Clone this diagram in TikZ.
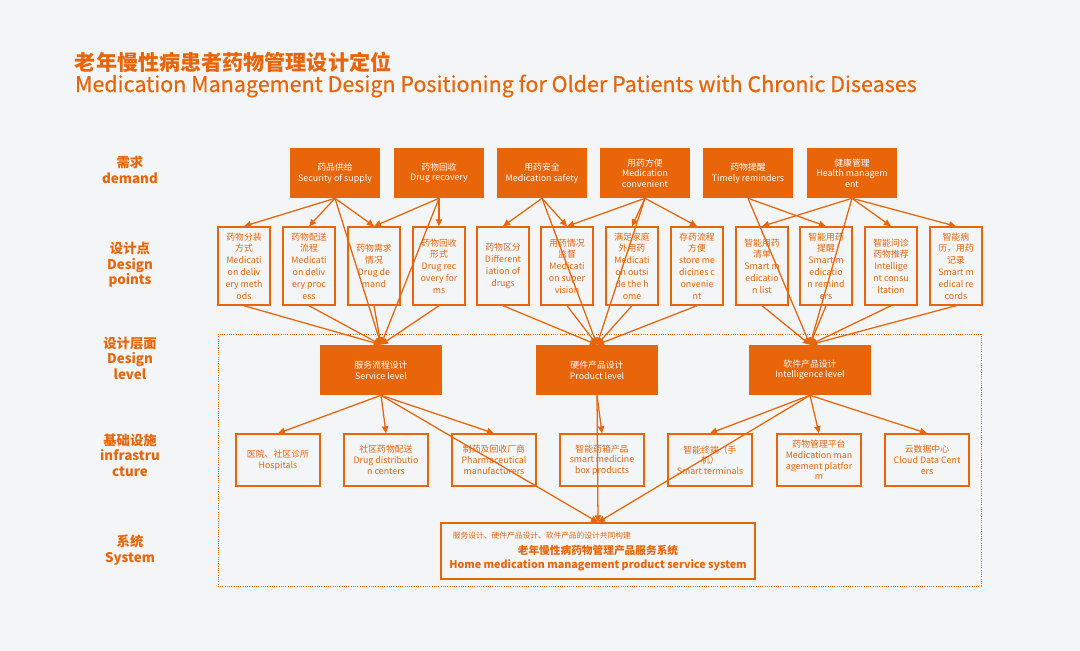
\documentclass[tikz,border=0pt]{standalone}
\usepackage{fontspec}
\setmainfont{Noto Sans CJK SC}
\newfontfamily\titlefont[FakeBold=0.5]{Noto Sans CJK SC}
\usetikzlibrary{arrows.meta}
\definecolor{orng}{HTML}{E8650A}
\definecolor{bg}{HTML}{F4F5F7}
\begin{document}
\begin{tikzpicture} [
            x=0.025cm, y=-0.025cm,
            need/.style   = { rectangle, fill=orng, text=white, align=center,
                              minimum width=2.25cm, minimum height=1.25cm,
                              inner sep=1pt, font=\fontsize{6.3}{7.6}\selectfont },
            point/.style  = { rectangle, draw=orng, line width=1pt, text=orng, align=center,
                              minimum width=1.3cm, minimum height=1.95cm,
                              inner sep=1pt, font=\fontsize{6.3}{8.4}\selectfont },
            level/.style  = { need, minimum width=3.025cm },
            infra/.style  = { point, minimum width=2.1cm, minimum height=1.3cm,
                              font=\fontsize{6.3}{7.6}\selectfont },
            side/.style   = { text=orng, align=center, font=\fontsize{9.5}{11}\selectfont\bfseries },
            line/.style   = { draw=orng, line width=0.9pt, -{Triangle[length=5pt,width=4.5pt]} },
          ]
          \fill [bg] (0,0) rectangle (1080,651);
          \draw [orng, densely dotted, line width=0.6pt] (218,334) rectangle (981,586);

          % title
          \node (ttl1) [anchor=west, text=orng, font=\fontsize{15}{17}\selectfont\bfseries] at (70,62) {老年慢性病患者药物管理设计定位};
          \node (ttl2) [anchor=west, text=orng, font=\fontsize{15.3}{17}\titlefont] at (70,86) {Medication Management Design Positioning for Older Patients with Chronic Diseases};

          % row labels
          \node (lab1) [side] at (130,170) {需求\\demand};
          \node (lab2) [side] at (130,265) {设计点\\Design\\points};
          \node (lab3) [side] at (130,358) {设计层面\\Design\\level};
          \node (lab4) [side] at (130,455) {基础设施\\infrastru\\cture};
          \node (lab5) [side] at (130,550) {系统\\System};

          % demands
          \node (n1) [need] at (335,173) {药品供给\\Security of supply};
          \node (n2) [need] at (439,173) {药物回收\\Drug recovery};
          \node (n3) [need] at (542,173) {用药安全\\Medication safety};
          \node (n4) [need] at (645,173) {用药方便\\Medication\\convenient};
          \node (n5) [need] at (748,173) {药物提醒\\Timely reminders};
          \node (n6) [need] at (852,173) {健康管理\\Health managem\\ent};

          % design points
          \node (d1)  [point] at (244,266) {药物分装\\方式\\Medicati\\on deliv\\ery meth\\ods};
          \node (d2)  [point] at (309,266) {药物配送\\流程\\Medicati\\on deliv\\ery proc\\ess};
          \node (d3)  [point] at (374,266) {药物需求\\情况\\Drug de\\mand};
          \node (d4)  [point] at (439,266) {药物回收\\形式\\Drug rec\\overy for\\ms};
          \node (d5)  [point] at (503,266) {药物区分\\Different\\iation of\\drugs};
          \node (d6)  [point] at (567,266) {用药情况\\监督\\Medicati\\on super\\vision};
          \node (d7)  [point] at (632,266) {满足家庭\\外用药\\Medicati\\on outsi\\de the h\\ome};
          \node (d8)  [point] at (697,266) {存药流程\\方便\\store me\\dicines c\\onvenie\\nt};
          \node (d9)  [point] at (762,266) {智能用药\\清单\\Smart m\\edicatio\\n list};
          \node (d10) [point] at (826,266) {智能用药\\提醒\\Smart m\\edicatio\\n remind\\ers};
          \node (d11) [point] at (891,266) {智能问诊\\药物推荐\\Intellige\\nt consu\\ltation};
          \node (d12) [point] at (956,266) {智能病\\历，用药\\记录\\Smart m\\edical re\\cords};

          % design levels
          \node (l1) [level] at (381,370) {服务流程设计\\Service level};
          \node (l2) [level] at (597,370) {硬件产品设计\\Product level};
          \node (l3) [level] at (810,370) {软件产品设计\\Intelligence level};

          % infrastructure
          \node (i1) [infra] at (278,460) {医院、社区诊所\\Hospitals};
          \node (i2) [infra] at (386,460) {社区药物配送\\Drug distributio\\n centers};
          \node (i3) [infra] at (494,460) {制药及回收厂商\\Pharmaceutical\\manufacturers};
          \node (i4) [infra] at (602,460) {智能药箱产品\\smart medicine\\box products};
          \node (i5) [infra] at (710,460) {智能终端（手\\机）\\Smart terminals};
          \node (i6) [infra] at (819,460) {药物管理平台\\Medication man\\agement platfor\\m};
          \node (i7) [infra] at (927,460) {云数据中心\\Cloud Data Cent\\ers};

          % system
          \node (sys) [point, minimum width=7.85cm, minimum height=1.4cm, inner sep=0pt] at (598,551) {};
          \node (sys1) [anchor=west, text=orng, font=\fontsize{5.5}{6}\selectfont] at (448,536) {服务设计、硬件产品设计、软件产品的设计共同构建};
          \node (sys2) [text=orng, align=center, font=\fontsize{7.6}{10}\selectfont\bfseries] at (598,558) {老年慢性病药物管理产品服务系统\\Home medication management product service system};

          % demand -> design points
          \draw [line] (n1.south) -- (d1.north);
          \draw [line] (n1.south) -- (d2.north);
          \draw [line] (n1.south) -- (d3.north);
          \draw [line] (n1.south) -- (l1.north);
          \draw [line] (n2.south) -- (d3.north);
          \draw [line] (n2.south) -- (d4.north);
          \draw [line] (n2.south) -- (l1.north);
          \draw [line] (n3.south) -- (d5.north);
          \draw [line] (n3.south) -- (d6.north);
          \draw [line] (n3.south) -- (l2.north);
          \draw [line] (n4.south) -- (d6.north);
          \draw [line] (n4.south) -- (d7.north);
          \draw [line] (n4.south) -- (d8.north);
          \draw [line] (n4.south) -- (l2.north);
          \draw [line] (n5.south) -- (d10.north);
          \draw [line] (n5.south) -- (l3.north);
          \draw [line] (n6.south) -- (d9.north);
          \draw [line] (n6.south) -- (d11.north);
          \draw [line] (n6.south) -- (d12.north);
          \draw [line] (n6.south) -- (l3.north);

          % design points -> levels
          \foreach \d in {d1,d2,d3,d4} \draw [line] (\d.south) -- (l1.north);
          \foreach \d in {d5,d6,d7,d8} \draw [line] (\d.south) -- (l2.north);
          \foreach \d in {d9,d10,d11,d12} \draw [line] (\d.south) -- (l3.north);

          % levels -> infrastructure and system
          \draw [line] (l1.south) -- (i1.north);
          \draw [line] (l1.south) -- (i2.north);
          \draw [line] (l1.south) -- (i3.north);
          \draw [line] (l1.south) -- (sys.north);
          \draw [line] (l2.south) -- (i4.north);
          \draw [line] (l2.south) -- (sys.north);
          \draw [line] (l3.south) -- (i5.north);
          \draw [line] (l3.south) -- (i6.north);
          \draw [line] (l3.south) -- (i7.north);
          \draw [line] (l3.south) -- (sys.north);
        \end{tikzpicture}
\end{document}
